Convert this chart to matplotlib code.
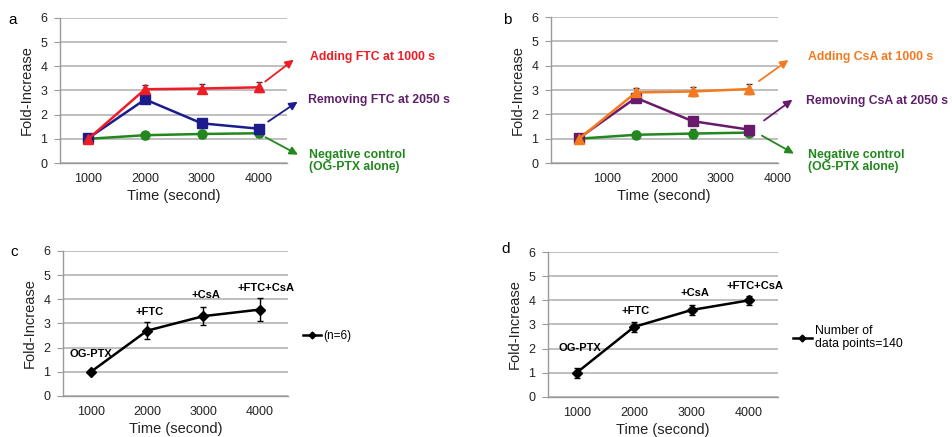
import numpy as np
import matplotlib.pyplot as plt
from matplotlib.lines import Line2D

plt.rcParams['font.family'] = ['Liberation Sans', 'DejaVu Sans']

# panel a
time_a = [1000, 2000, 3000, 4000]
add_ftc = [1.0, 3.05, 3.08, 3.13]
add_ftc_err = [0.08, 0.18, 0.18, 0.2]
rem_ftc = [1.03, 2.63, 1.64, 1.42]
rem_ftc_err = [0.08, 0.15, 0.12, 0.15]
neg_a = [1.0, 1.15, 1.2, 1.23]
neg_a_err = [0.06, 0.15, 0.15, 0.17]

# panel b
time_b = [500, 1500, 2500, 3500]
add_csa = [1.0, 2.9, 2.94, 3.04]
add_csa_err = [0.08, 0.2, 0.2, 0.22]
rem_csa = [1.03, 2.68, 1.72, 1.37]
rem_csa_err = [0.08, 0.15, 0.17, 0.17]
neg_b = [1.0, 1.16, 1.21, 1.25]
neg_b_err = [0.06, 0.15, 0.17, 0.15]

# panels c and d
time_cd = [1000, 2000, 3000, 4000]
point_labels = ['OG-PTX', '+FTC', '+CsA', '+FTC+CsA']
fold_c = [1.0, 2.7, 3.3, 3.57]
fold_c_err = [0.04, 0.34, 0.37, 0.46]
fold_d = [1.0, 2.9, 3.6, 4.0]
fold_d_err = [0.2, 0.22, 0.2, 0.2]

RED = '#ee1c24'
NAVY = '#1c1c8c'
GREEN = '#22881e'
ORANGE = '#f47a20'
PURPLE = '#6a1a6a'
TXT_PURPLE = '#5e2068'

fig = plt.figure(figsize=(9.53, 4.37), dpi=100)


def style_axes(ax, xlim, xticks):
    ax.set_xlim(*xlim)
    ax.set_ylim(0, 6)
    ax.set_yticks(range(7))
    ax.set_xticks(xticks)
    ax.grid(axis='y', color='#b4b4b4', linewidth=1.2)
    ax.set_axisbelow(True)
    for s in ['top', 'right']:
        ax.spines[s].set_visible(False)
    for s in ['left', 'bottom']:
        ax.spines[s].set_color('#9a9a9a')
        ax.spines[s].set_linewidth(1.0)
    ax.tick_params(axis='y', length=4, color='#9a9a9a', labelsize=9, pad=5, labelcolor='#222222')
    ax.tick_params(axis='x', length=0, labelsize=9, pad=7, labelcolor='#222222')
    ax.set_xlabel('Time (second)', fontsize=10.5, labelpad=3, color='#222222')
    ax.set_ylabel('Fold-Increase', fontsize=10.5, labelpad=5, color='#222222')


def series(ax, x, y, err, color, marker, ms):
    ax.errorbar(x, y, yerr=err, color=color, marker=marker, markersize=ms,
                linewidth=1.8, ecolor='#333333', elinewidth=1.0, capsize=2, zorder=3)


def arrow(ax, start, end, color):
    ax.annotate('', xy=end, xytext=start, xycoords='data',
                arrowprops=dict(arrowstyle='-|>', color=color, lw=1.3, mutation_scale=12),
                annotation_clip=False)


# ---- a ----
ax_a = fig.add_axes([0.063, 0.627, 0.238, 0.332])
series(ax_a, time_a, neg_a, neg_a_err, GREEN, 'o', 6.5)
series(ax_a, time_a, rem_ftc, rem_ftc_err, NAVY, 's', 6.5)
series(ax_a, time_a, add_ftc, add_ftc_err, RED, '^', 7)
style_axes(ax_a, (500, 4500), time_a)
arrow(ax_a, (4080, 3.3), (4660, 4.34), RED)
arrow(ax_a, (4130, 1.65), (4730, 2.6), NAVY)
arrow(ax_a, (4080, 1.12), (4740, 0.29), GREEN)
fig.text(310 / 953, 1 - 57 / 437, 'Adding FTC at 1000 s', color=RED, fontsize=8.8, fontweight='bold', va='center')
fig.text(308 / 953, 1 - 100 / 437, 'Removing FTC at 2050 s', color=TXT_PURPLE, fontsize=8.8, fontweight='bold', va='center')
fig.text(309 / 953, 1 - 161 / 437, 'Negative control\n(OG-PTX alone)', color=GREEN, fontsize=8.8, fontweight='bold',
         va='center', linespacing=1.1)
fig.text(8 / 953, 1 - 20 / 437, 'a', fontsize=11, va='center')

# ---- b ----
ax_b = fig.add_axes([0.578, 0.627, 0.238, 0.334])
series(ax_b, time_b, neg_b, neg_b_err, GREEN, 'o', 6.5)
series(ax_b, time_b, rem_csa, rem_csa_err, PURPLE, 's', 6.5)
series(ax_b, time_b, add_csa, add_csa_err, ORANGE, '^', 7)
style_axes(ax_b, (0, 4000), [1000, 2000, 3000, 4000])
arrow(ax_b, (3630, 3.3), (4230, 4.3), ORANGE)
arrow(ax_b, (3720, 1.68), (4300, 2.67), PURPLE)
arrow(ax_b, (3680, 1.18), (4330, 0.33), GREEN)
fig.text(808 / 953, 1 - 57 / 437, 'Adding CsA at 1000 s', color=ORANGE, fontsize=8.8, fontweight='bold', va='center')
fig.text(806 / 953, 1 - 101 / 437, 'Removing CsA at 2050 s', color=TXT_PURPLE, fontsize=8.8, fontweight='bold', va='center')
fig.text(808 / 953, 1 - 161 / 437, 'Negative control\n(OG-PTX alone)', color=GREEN, fontsize=8.8, fontweight='bold',
         va='center', linespacing=1.1)
fig.text(503 / 953, 1 - 20 / 437, 'b', fontsize=11, va='center')


def legend_handle():
    return Line2D([], [], color='black', marker='D', markersize=3.5, linewidth=1.8)


# ---- c ----
ax_c = fig.add_axes([0.066, 0.094, 0.236, 0.332])
ax_c.errorbar(time_cd, fold_c, yerr=fold_c_err, color='black', marker='D', markersize=5,
              linewidth=1.8, elinewidth=1.0, capsize=2, zorder=3)
style_axes(ax_c, (500, 4500), time_cd)
lab_x_c = [0, 50, 40, 120]
lab_y_c = [1.74, 3.47, 4.17, 4.46]
for x, dx, ly, lab in zip(time_cd, lab_x_c, lab_y_c, point_labels):
    ax_c.text(x + dx, ly, lab, ha='center', va='center', fontsize=8, fontweight='bold')
ax_c.legend([legend_handle()], ['(n=6)'], loc='center left', bbox_to_anchor=(1.02, 0.41),
            frameon=False, fontsize=8.5, handlelength=1.5, handletextpad=0.2)
fig.text(10 / 953, 1 - 252 / 437, 'c', fontsize=11, va='center')

# ---- d ----
ax_d = fig.add_axes([0.575, 0.092, 0.241, 0.331])
ax_d.errorbar(time_cd, fold_d, yerr=fold_d_err, color='black', marker='D', markersize=5,
              linewidth=1.8, elinewidth=1.0, capsize=2, zorder=3)
style_axes(ax_d, (500, 4500), time_cd)
lab_x_d = [50, 30, 60, 110]
lab_y_d = [2.02, 3.55, 4.3, 4.59]
for x, dx, ly, lab in zip(time_cd, lab_x_d, lab_y_d, point_labels):
    ax_d.text(x + dx, ly, lab, ha='center', va='center', fontsize=8, fontweight='bold')
ax_d.legend([legend_handle()], ['Number of\ndata points=140'], loc='center left',
            bbox_to_anchor=(1.02, 0.41), frameon=False, fontsize=8.8, handlelength=1.5,
            handletextpad=0.3)
fig.text(501 / 953, 1 - 249 / 437, 'd', fontsize=11, va='center')

fig.savefig('out.png', dpi=100)
